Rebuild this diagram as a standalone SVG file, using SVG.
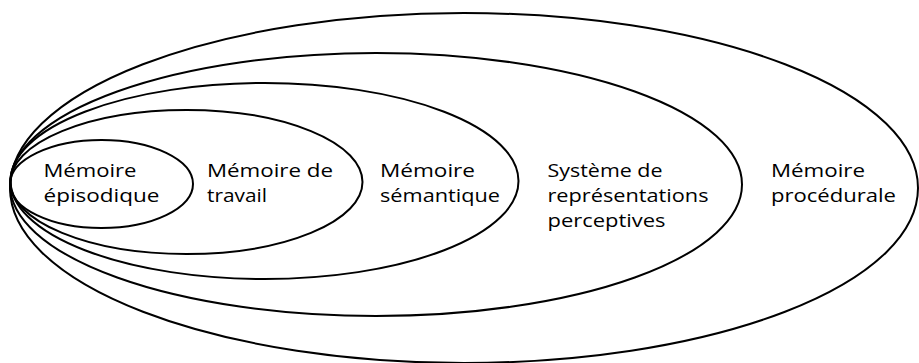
<svg xmlns="http://www.w3.org/2000/svg" width="919" height="363" viewBox="0 0 919 363">
<style>
.e{fill:none;stroke:#000;stroke-width:2}
text{font-family:"Open Sans","Noto Sans","Liberation Sans",sans-serif;font-size:18.5px;fill:#000}
</style>
<rect width="919" height="363" fill="#fff"/>
<g id="procedurale">
<ellipse class="e" cx="464" cy="188" rx="454" ry="175"/>
<text x="771" y="176.5" textLength="94" lengthAdjust="spacingAndGlyphs">Mémoire</text>
<text x="771" y="201.5" textLength="125" lengthAdjust="spacingAndGlyphs">procédurale</text>
</g>
<g id="perceptives">
<ellipse class="e" cx="376" cy="184.5" rx="366" ry="131.5"/>
<text x="547.5" y="177.3" textLength="115" lengthAdjust="spacingAndGlyphs">Système de</text>
<text x="547.5" y="202" textLength="161" lengthAdjust="spacingAndGlyphs">représentations</text>
<text x="547.5" y="226.7" textLength="118" lengthAdjust="spacingAndGlyphs">perceptives</text>
</g>
<g id="semantique">
<ellipse class="e" cx="264.5" cy="181" rx="254" ry="98"/>
<text x="380" y="177.3" textLength="95" lengthAdjust="spacingAndGlyphs">Mémoire</text>
<text x="380" y="202.3" textLength="120" lengthAdjust="spacingAndGlyphs">sémantique</text>
</g>
<g id="travail">
<ellipse class="e" cx="186.5" cy="182" rx="176" ry="72"/>
<text x="207" y="177.3" textLength="126" lengthAdjust="spacingAndGlyphs">Mémoire de</text>
<text x="207" y="201.7" textLength="60" lengthAdjust="spacingAndGlyphs">travail</text>
</g>
<g id="episodique">
<ellipse class="e" cx="101.5" cy="184" rx="91.5" ry="44"/>
<text x="43.5" y="177.3" textLength="93" lengthAdjust="spacingAndGlyphs">Mémoire</text>
<text x="43.5" y="201.7" textLength="116" lengthAdjust="spacingAndGlyphs">épisodique</text>
</g>
<g id="connectors"/>
</svg>
